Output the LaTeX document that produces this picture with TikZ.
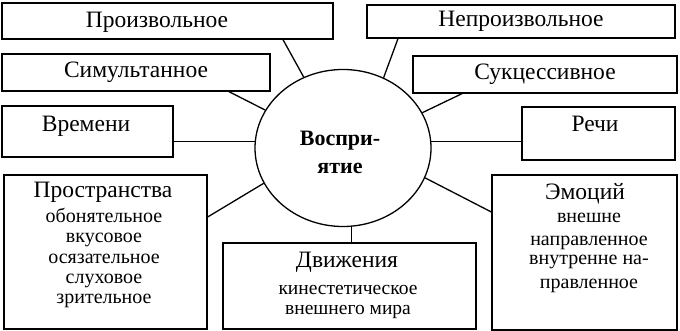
\documentclass[tikz,border=0pt]{standalone}
\usepackage{fontspec}
\setmainfont{Liberation Serif}
\usetikzlibrary{shapes.geometric}

\begin{document}
\begin{tikzpicture}[x=1pt,y=-1pt,
  box/.style={draw,line width=1.3pt,inner sep=0pt,font=\fontsize{23.5}{23.5}\selectfont},
  head/.style={font=\fontsize{23.5}{23.5}\selectfont,anchor=base,inner sep=0.5pt},
  sub/.style={font=\fontsize{20}{20}\selectfont,anchor=base,inner sep=0.5pt},
  link/.style={line width=1.3pt}]
  \useasboundingbox (0,0) rectangle (680,331);
  % centre
  \node[draw,ellipse,line width=1.3pt,minimum width=176,minimum height=157,inner sep=0pt] (vospr) at (343,148) {};
  \node[font=\bfseries\fontsize{22}{28}\selectfont,align=center] (vosprT) at (340,152) {Воспри-\\ятие};
  % upper boxes
  \node[box,minimum width=331,minimum height=36] (proizv) at (167.5,21) {};
  \node[head] (proizvT) at (157,28) {Произвольное};
  \node[box,minimum width=308,minimum height=33] (neproizv) at (521,21.5) {Непроизвольное};
  \node[box,minimum width=268,minimum height=37] (simult) at (136,72.5) {Симультанное};
  \node[box,minimum width=264,minimum height=37] (sukc) at (545,74.5) {Сукцессивное};
  \node[box,minimum width=171,minimum height=51] (vrem) at (87.5,131.5) {};
  \node[box,minimum width=153,minimum height=53] (rech) at (598.5,133.5) {};
  \node[head] (vremT) at (86,132) {Времени};
  \node[head] (rechT) at (595,132) {Речи};
  % lower boxes
  \node[box,minimum width=203,minimum height=154] (prostr) at (105.5,252) {};
  \node[box,minimum width=253,minimum height=86] (dvizh) at (349.5,286) {};
  \node[box,minimum width=185,minimum height=155] (emoc) at (584.5,252.5) {};
  \node[head] (prostrT) at (103,198) {Пространства};
  \foreach \t [count=\i] in {обонятельное,вкусовое,осязательное,слуховое,зрительное}
    \node[sub] (prostr\i) at (104,203+20*\i) {\t};
  \node[head] (dvizhT) at (347,267) {Движения};
  \node[sub,font=\fontsize{19.5}{19.5}\selectfont] (dvizh1) at (348,294) {кинестетическое};
  \node[sub,font=\fontsize{19.5}{19.5}\selectfont] (dvizh2) at (348,314.5) {внешнего мира};
  \node[head] (emocT) at (585,200) {Эмоций};
  \foreach \t/\y [count=\i] in {внешне/223,направленное/245,внутренне на-/265,правленное/288}
    \node[sub] (emoc\i) at (589,\y) {\t};
  % connectors
  \draw[link] ([xshift=115.5pt]proizv.south) -- (vospr.119);
  \draw[link] ([xshift=-123pt]neproizv.south) -- (vospr.60.5);
  \draw[link] ([xshift=93pt]simult.south) -- (vospr.154.6);
  \draw[link] ([xshift=-83pt]sukc.south) -- (vospr.24);
  \draw[link] (vospr.176) -- (vospr.176 -| vrem.east);
  \draw[link] (vospr.4.6) -- (vospr.4.6 -| rech.west);
  \draw[link] ([yshift=35pt]prostr.east) -- (vospr.204.5);
  \draw[link] ([yshift=40.5pt]emoc.west) -- (vospr.340);
  \draw[link] (vospr.276) -- (vospr.276 |- dvizh.north);
\end{tikzpicture}
\end{document}
